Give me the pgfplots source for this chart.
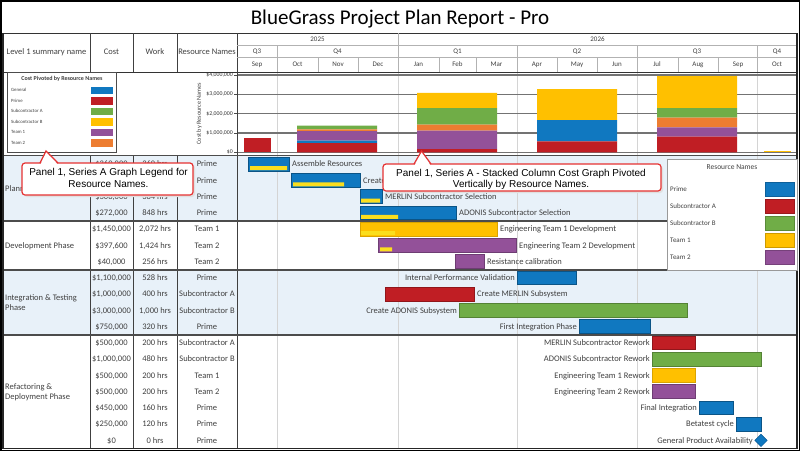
\documentclass[border=0pt]{standalone}
\usepackage{pgfplots}
\usepackage{pgfplotstable}
\pgfplotsset{compat=1.18}
\usepackage{fontspec}
\setmainfont{Carlito}
\newfontfamily\arial{Liberation Sans}
\definecolor{cBlue}{RGB}{16,120,192}
\definecolor{cBlueD}{RGB}{10,90,150}
\definecolor{cRed}{RGB}{192,30,36}
\definecolor{cGreen}{RGB}{112,173,71}
\definecolor{cYellow}{RGB}{255,192,0}
\definecolor{cPurple}{RGB}{147,81,153}
\definecolor{cOrange}{RGB}{237,125,49}
\definecolor{cProg}{RGB}{250,222,30}
\definecolor{cBand}{RGB}{232,241,249}
\definecolor{cTxt}{RGB}{64,64,64}
\definecolor{cGrid}{RGB}{212,212,212}
\definecolor{cCall}{RGB}{230,50,50}
\newcommand{\fs}[1]{\fontsize{#1}{#1}\selectfont}

% cost per quarter (stacked column chart), in dollars
\pgfplotstableread{
x     prime   general team1  team2  suba   subb
2.5   480000  120000  500000 90000  190000 0
5.5   170000  0       950000 310000 860000 790000
8.5   570000  1100000 0      0      0      1600000
11.5  810000  0       480000 500000 500000 1650000
}\costq
\pgfplotstableread{
x     prime   subb
0.51  730000  0
13.52 0       50000
}\costedge
% Gantt tasks per resource: row, start (months after 1 Sep 2025), duration (months)
\pgfplotstableread{
row start  dur
1   0.275  1.025
2   1.35   1.725
3   3.075  0.55
4   3.075  2.4
8   7.0    1.475
11  8.55   1.775
16  11.55  0.85
17  12.475 0.625
}\gPrime
\pgfplotstableread{
row start  dur
9   3.7    2.225
12  10.375 1.075
}\gSubA
\pgfplotstableread{
row start  dur
10  5.55   5.7
13  10.375 2.725
}\gSubB
\pgfplotstableread{
row start  dur
5   3.075  3.425
14  10.375 1.075
}\gTeamA
\pgfplotstableread{
row start  dur
6   3.525  3.45
7   5.45   0.725
15  10.375 1.075
}\gTeamB
\pgfplotstableread{
row start done
1   0.325 0.925
2   1.4   1.275
3   3.1   0.475
4   3.1   0.925
5   3.1   0.85
6   3.575 0.3
}\progress

\pgfplotsset{ganttgeom/.style={
 at={(237pt,-448.5pt)}, anchor=south west, scale only axis,
 width=560pt, height=292.5pt, hide axis,
 xmin=0, xmax=14, ymin=0.5, ymax=18.5, y dir=reverse}}
\newcommand\ganttaxis[3]{%
\begin{axis}[ganttgeom, xbar stacked, bar width=0.84]
\addplot[draw=none, fill=none] table[x=start, y=row]{#1};
\addplot[fill=#2, draw=#3, line width=0.7pt] table[x=dur, y=row]{#1};
\end{axis}}

\tikzset{
 tx/.style={font=\fs{8.5}, text=cTxt, inner sep=0pt, text height=5.5pt, text depth=0pt},
 hx/.style={font=\fs{7}, text=cTxt, inner sep=0pt, text height=4.6pt, text depth=0pt},
 gr/.style={font=\fs{8.5}, text=cTxt, inner sep=0pt, text height=5.5pt, text depth=0pt, anchor=west, xshift=3pt},
 gl/.style={font=\fs{8.5}, text=cTxt, inner sep=0pt, text height=5.5pt, text depth=0pt, anchor=east, xshift=-2pt},
}
\newcommand\trow[4]{\node[tx] at (111.5,#1) {#2}; \node[tx] at (155,#1) {#3}; \node[tx] at (207,#1) {#4};}

\begin{document}
\begin{tikzpicture}[x=1pt, y=-1pt]
\useasboundingbox (0,0) rectangle (800,451);
\fill[white] (0,0) rectangle (800,451);
% bands
\fill[cBand] (3,156) rectangle (797,221);
\fill[cBand] (3,269.75) rectangle (797,334.75);
% quarter gridlines
\foreach \g in {277,398,517,637,757} \draw[cGrid, line width=0.8pt] (\g,72) -- (\g,448.5);

% ---------- stacked column chart ----------
\begin{axis}[
 at={(237pt,-152.3pt)}, anchor=south west, scale only axis,
 width=560pt, height=77.3pt,
 xmin=0, xmax=14, ymin=0, ymax=4000000,
 ybar stacked, bar width=2,
 axis x line=none, axis y line*=left,
 y axis line style={draw=black!70, line width=0.8pt},
 ytick={0,1000000,2000000,3000000,4000000},
 yticklabels={{\$0},{\$1,000,000},{\$2,000,000},{\$3,000,000},{\$4,000,000}},
 scaled y ticks=false,
 ymajorgrids, grid style={draw=black!55, line width=1.2pt},
 tick align=outside, major tick length=3pt,
 ytick style={draw=black!70, line width=0.6pt},
 yticklabel style={font=\fs{5.8}, text=black!80, inner sep=1pt},
 ylabel={Cost by Resource Names},
 ylabel style={font=\fs{6.2}, text=cTxt},
]
\addplot[fill=cRed, draw=none] table[x=x, y=prime]{\costq};
\addplot[fill=cBlue, draw=none] table[x=x, y=general]{\costq};
\addplot[fill=cPurple, draw=none] table[x=x, y=team1]{\costq};
\addplot[fill=cOrange, draw=none] table[x=x, y=team2]{\costq};
\addplot[fill=cGreen, draw=none] table[x=x, y=suba]{\costq};
\addplot[fill=cYellow, draw=none] table[x=x, y=subb]{\costq};
\end{axis}
\begin{axis}[
 at={(237pt,-152.3pt)}, anchor=south west, scale only axis,
 width=560pt, height=77.3pt, hide axis,
 xmin=0, xmax=14, ymin=0, ymax=4000000,
 ybar stacked, bar width=0.68,
]
\addplot[fill=cRed, draw=none] table[x=x, y=prime]{\costedge};
\addplot[fill=cYellow, draw=none] table[x=x, y=subb]{\costedge};
\end{axis}

% ---------- Gantt bars ----------
\ganttaxis{\gPrime}{cBlue}{cBlue!70!black}
\ganttaxis{\gSubA}{cRed}{cRed!75!black}
\ganttaxis{\gSubB}{cGreen}{cGreen!75!black}
\ganttaxis{\gTeamA}{cYellow}{cYellow!85!black}
\ganttaxis{\gTeamB}{cPurple}{cPurple!75!black}
\begin{axis}[ganttgeom, xbar stacked, bar width=0.246, bar shift=0.246]
\addplot[draw=none, fill=none, bar shift=0.246] table[x=start, y=row]{\progress};
\addplot[fill=cProg, draw=none, bar shift=0.246] table[x=done, y=row]{\progress};
\end{axis}
\begin{axis}[ganttgeom, clip=false]
\addplot[only marks, mark=square*, mark size=4.4pt, mark options={rotate=45, fill=cBlue, draw=cBlueD, line width=0.5pt}] coordinates {(13.1,18)};
\node[gr] at (axis cs:1.3,1) {Assemble Resources};
\node[gr] at (axis cs:3.075,2) {Create Requirements};
\node[gr] at (axis cs:3.625,3) {MERLIN Subcontractor Selection};
\node[gr] at (axis cs:5.475,4) {ADONIS Subcontractor Selection};
\node[gr] at (axis cs:6.5,5) {Engineering Team 1 Development};
\node[gr] at (axis cs:6.975,6) {Engineering Team 2 Development};
\node[gr] at (axis cs:6.175,7) {Resistance calibration};
\node[gl] at (axis cs:7.0,8) {Internal Performance Validation};
\node[gr] at (axis cs:5.925,9) {Create MERLIN Subsystem};
\node[gl] at (axis cs:5.55,10) {Create ADONIS Subsystem};
\node[gl] at (axis cs:8.55,11) {First Integration Phase};
\node[gl] at (axis cs:10.375,12) {MERLIN Subcontractor Rework};
\node[gl] at (axis cs:10.375,13) {ADONIS Subcontractor Rework};
\node[gl] at (axis cs:10.375,14) {Engineering Team 1 Rework};
\node[gl] at (axis cs:10.375,15) {Engineering Team 2 Rework};
\node[gl] at (axis cs:11.55,16) {Final Integration};
\node[gl] at (axis cs:12.475,17) {Betatest cycle};
\node[gl] at (axis cs:12.95,18) {General Product Availability};
\end{axis}

% ---------- table structure ----------
\draw[black!80, line width=1pt] (3,33) -- (797,33);
\draw[black!80, line width=1pt] (3,72) -- (797,72);
\foreach \c in {90,133,177} {
  \draw[black!75, line width=0.8pt] (\c,33) -- (\c,72);
  \draw[black!75, line width=0.8pt] (\c,155.5) -- (\c,448.5);
}
\draw[black!75, line width=1pt] (237,33) -- (237,448.5);
\draw[black!30, line width=0.6pt] (237,45) -- (797,45) (237,57) -- (797,57) (398,33) -- (398,45);
\foreach \c in {277,398,517,637,757} \draw[black!30, line width=0.6pt] (\c,45) -- (\c,57);
\foreach \c in {277,318,358,398,439,476,517,557,597,637,678,718,757} \draw[black!30, line width=0.6pt] (\c,57) -- (\c,72);
\foreach \s in {155.5,221,269.75,334.75} \draw[black!70, line width=1.8pt] (3,\s) -- (797,\s);
\draw[black!85, line width=1.2pt] (3,33) -- (3,448.5) -- (797,448.5) -- (797,33);

% header text
\node[font=\fs{21}, anchor=base, inner sep=0pt] at (400,24) {BlueGrass Project Plan Report - Pro};
\node[tx] at (46.5,52) {Level 1 summary name};
\node[tx] at (111.5,52) {Cost};
\node[tx] at (155,52) {Work};
\node[tx] at (207,52) {Resource Names};
\node[hx] at (317.5,39.5) {2025};
\node[hx] at (597.5,39.5) {2026};
\foreach \x/\q in {257/Q3,337.5/Q4,457.5/Q1,577/Q2,697/Q3,777/Q4} \node[hx] at (\x,51) {\q};
\foreach \x/\m in {257/Sep,297.5/Oct,338/Nov,378/Dec,418.5/Jan,457.5/Feb,496.5/Mar,537/Apr,577/May,617/Jun,657/Jul,698/Aug,738/Sep,777/Oct} \node[hx] at (\x,64.5) {\m};

% body text
\trow{164.1}{\$360,000}{360 hrs}{Prime}
\node[tx] at (207,180.4) {Prime};
\trow{196.6}{\$308,000}{384 hrs}{Prime}
\trow{212.9}{\$272,000}{848 hrs}{Prime}
\trow{229.1}{\$1,450,000}{2,072 hrs}{Team 1}
\trow{245.4}{\$397,600}{1,424 hrs}{Team 2}
\trow{261.6}{\$40,000}{256 hrs}{Team 2}
\trow{277.9}{\$1,100,000}{528 hrs}{Prime}
\trow{294.1}{\$1,000,000}{400 hrs}{Subcontractor A}
\trow{310.4}{\$3,000,000}{1,000 hrs}{Subcontractor B}
\trow{326.6}{\$750,000}{320 hrs}{Prime}
\trow{342.9}{\$500,000}{200 hrs}{Subcontractor A}
\trow{359.1}{\$1,000,000}{480 hrs}{Subcontractor B}
\trow{375.4}{\$500,000}{200 hrs}{Team 1}
\trow{391.6}{\$500,000}{200 hrs}{Team 2}
\trow{407.9}{\$450,000}{160 hrs}{Prime}
\trow{424.1}{\$250,000}{120 hrs}{Prime}
\trow{440.4}{\$0}{0 hrs}{Prime}
\node[tx, anchor=west] at (5,188.5) {Planning};
\node[tx, anchor=west] at (5,245.4) {Development Phase};
\node[anchor=west, align=left, font=\fontsize{8.5}{10}\selectfont, text=cTxt, inner sep=0pt] at (5,302.5) {Integration \& Testing\\Phase};
\node[anchor=west, align=left, font=\fontsize{8.5}{10}\selectfont, text=cTxt, inner sep=0pt] at (5,392) {Refactoring \&\\Deployment Phase};

% chart legend (left panel)
\draw[black!70, line width=0.8pt, fill=white] (7.5,72) rectangle (116.5,152);
\node[font=\bfseries\fs{6}, text=cTxt, inner sep=0pt] at (62,79) {Cost Pivoted by Resource Names};
\foreach \y/\n/\c in {90.3/General/cBlue,100.7/Prime/cRed,111.3/Subcontractor A/cGreen,122/Subcontractor B/cYellow,132.3/Team 1/cPurple,143/Team 2/cOrange} {
  \node[font=\fs{4.8}, text=cTxt, anchor=west, inner sep=0pt, text height=3.2pt, text depth=0pt] at (11,\y) {\n};
  \fill[\c] (91,\y-3.8) rectangle (113,\y+3.8);
}
% Gantt legend (right panel)
\draw[black!40, line width=0.8pt, fill=white] (667,159) rectangle (797,270);
\node[font=\fs{7.5}, text=cTxt, inner sep=0pt] at (732,167) {Resource Names};
\foreach \y/\n/\c in {189/Prime/cBlue,206.5/Subcontractor A/cRed,223.5/Subcontractor B/cGreen,240.5/Team 1/cYellow,257.5/Team 2/cPurple} {
  \node[font=\fs{7}, text=cTxt, anchor=west, inner sep=0pt, text height=4.6pt, text depth=0pt] at (670,\y) {\n};
  \filldraw[fill=\c, draw=\c!80!black, line width=0.4pt] (765,\y-7) rectangle (794,\y+7);
}

% callouts
\fill[black!12, rounded corners=3pt] (24,165) rectangle (195,197);
\filldraw[draw=cCall, fill=white, line width=1.2pt, rounded corners=3pt] (22,163) rectangle (193,195);
\fill[white] (40.8,164) -- (46,151.6) -- (57.2,164) -- cycle;
\draw[cCall, line width=1.2pt] (40,163) -- (46,151) -- (58,163);
\node[font=\arial\fs{10}, anchor=base, inner sep=0pt] at (108.5,175.3) {Panel 1, Series A Graph Legend for};
\node[font=\arial\fs{10}, anchor=base, inner sep=0pt] at (108.5,187.3) {Resource Names.};

\fill[black!12, rounded corners=3pt] (385,166) rectangle (663,193);
\filldraw[draw=cCall, fill=white, line width=1.2pt, rounded corners=3pt] (383,164) rectangle (661,191);
\fill[white] (414.8,165) -- (421.5,151.6) -- (430.2,165) -- cycle;
\draw[cCall, line width=1.2pt] (414,164) -- (421.5,151) -- (431,164);
\node[font=\arial\fs{10}, anchor=base, inner sep=0pt] at (521,176.3) {Panel 1, Series A - Stacked Column Cost Graph Pivoted};
\node[font=\arial\fs{10}, anchor=base, inner sep=0pt] at (521,187.8) {Vertically by Resource Names.};

% outer frame
\draw[black, line width=1.5pt] (0.75,0.75) rectangle (799.25,450.25);
\end{tikzpicture}
\end{document}
